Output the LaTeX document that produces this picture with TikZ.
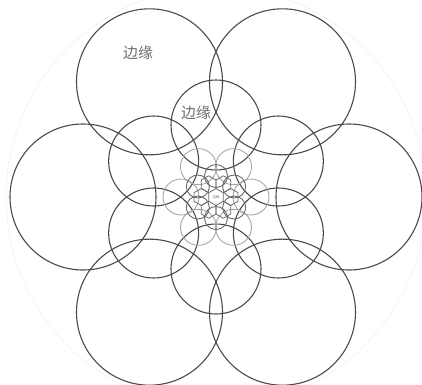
\documentclass[tikz,border=0pt]{standalone}
\usepackage{fontspec}
\usepackage{tikz}
\usetikzlibrary{calc}
\newfontfamily\cjk{Noto Sans CJK SC}
\definecolor{cDark}{HTML}{4A4A4A}
\definecolor{cMid}{HTML}{6A6A6A}
\definecolor{cLight}{HTML}{A6A6A6}
\definecolor{cHalo}{HTML}{F0F0F0}
\definecolor{cText}{HTML}{6E6E6E}
\tikzset{
  bigring/.style={draw=cDark,line width=1.1pt},
  midring/.style={draw=cDark,line width=1.1pt},
  lightring/.style={draw=cLight,line width=0.9pt},
  smallring/.style={draw=cMid,line width=0.9pt},
  hexcell/.style={draw=cMid,line width=0.8pt},
  halo/.style={draw=cHalo,line width=0.6pt},
  lbl/.style={font=\cjk\fontsize{15}{15}\selectfont,text=cText,inner sep=0pt},
}
\begin{document}
\begin{tikzpicture}[x=1bp,y=-1bp]
  \useasboundingbox (0,0) rectangle (422,385);
  \clip (0,0) rectangle (422,385);
  \coordinate (O) at (216,197);
  % faint outer boundary
  \draw[halo] (O) circle (210);
  % outer ring
  \foreach \a in {0,60,...,300}
    \draw[bigring] ($(O)+(\a:133)$) circle (73);
  % middle ring
  \foreach \a in {30,90,...,330}
    \draw[midring] ($(O)+(\a:72)$) circle (45);
  % light ring
  \foreach \a in {0,60,...,300}
    \draw[lightring] ($(O)+(\a:35)$) circle (18);
  % small ring
  \foreach \a in {30,90,...,330}
    \draw[smallring] ($(O)+(\a:21)$) circle (11.5);
  % hexagon cells
  \foreach \a in {0,60,...,300}
    \draw[hexcell] ($(O)+(\a:14.7)+(30:8.5)$) -- ($(O)+(\a:14.7)+(90:8.5)$)
      -- ($(O)+(\a:14.7)+(150:8.5)$) -- ($(O)+(\a:14.7)+(210:8.5)$)
      -- ($(O)+(\a:14.7)+(270:8.5)$) -- ($(O)+(\a:14.7)+(330:8.5)$) -- cycle;
  % labels
  \node[lbl] (edgeA) at (138,53) {边缘};
  \node[lbl] (edgeB) at (196,113) {边缘};
  \node[lbl,font=\cjk\fontsize{3.5}{3.5}\selectfont] (edgeC) at (O) {边缘};
\end{tikzpicture}
\end{document}
